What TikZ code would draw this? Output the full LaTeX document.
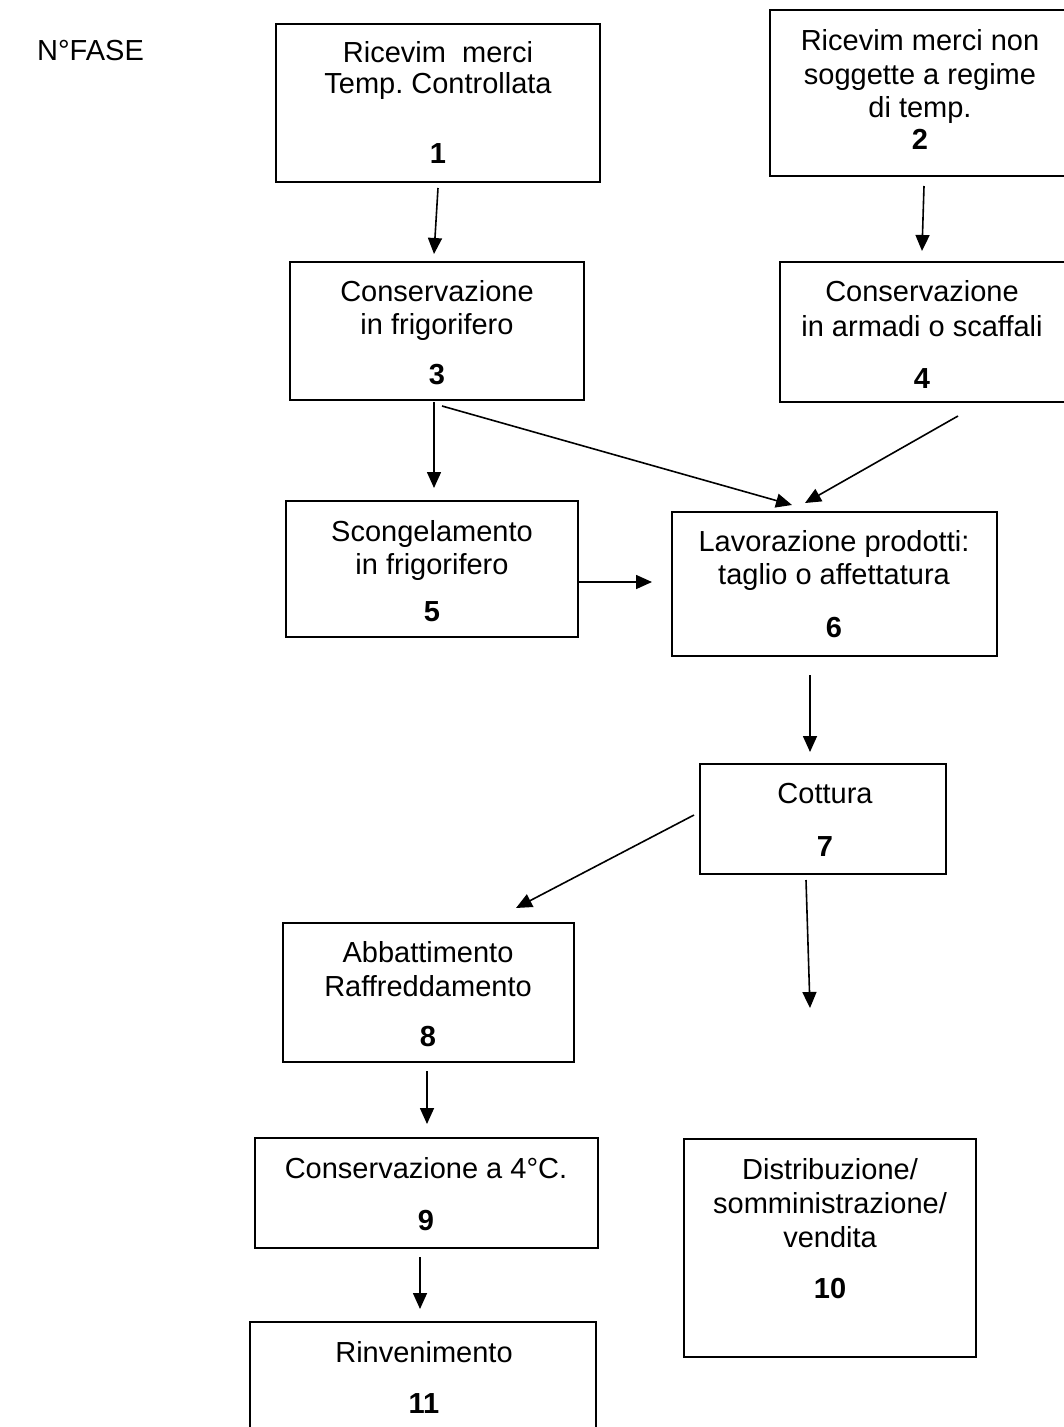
\documentclass[tikz,border=0pt]{standalone}
\usepackage{fontspec}
\setmainfont{Liberation Sans}
\usetikzlibrary{arrows.meta}
\frenchspacing
\begin{document}
\begin{tikzpicture}[x=1pt,y=-1pt,
  fbox/.style={draw=black,line width=1.9pt},
  txt/.style={anchor=base,inner sep=0pt,font=\fontsize{29}{33}\selectfont},
  num/.style={anchor=base,inner sep=0pt,font=\fontsize{29}{33}\selectfont\bfseries},
  arr/.style={line width=1.6pt,-{Triangle[length=16pt,width=14pt]}}]
\useasboundingbox (0,0) rectangle (1064,1427);
\clip (0,0) rectangle (1064,1427);
\fill[white] (0,0) rectangle (1064,1427);

\node[txt,anchor=base west] (fase) at (37,60) {N°FASE};

% boxes
\draw[fbox] (276,24) rectangle (600,182);
\node[txt] (t1a) at (438,62) {Ricevim\ \ merci};
\node[txt] (t1b) at (438,93) {Temp. Controllata};
\node[num] (n1) at (438,163) {1};

\draw[fbox] (770,10) rectangle (1075,176);
\node[txt] (t2a) at (920,50) {Ricevim merci non};
\node[txt] (t2b) at (920,84) {soggette a regime};
\node[txt] (t2c) at (920,117) {di temp.};
\node[num] (n2) at (920,149) {2};

\draw[fbox] (290,262) rectangle (584,400);
\node[txt] (t3a) at (437,301) {Conservazione};
\node[txt] (t3b) at (437,334) {in frigorifero};
\node[num] (n3) at (437,384) {3};

\draw[fbox] (780,262) rectangle (1068,402);
\node[txt] (t4a) at (922,301) {Conservazione};
\node[txt] (t4b) at (922,336) {in armadi o scaffali};
\node[num] (n4) at (922,388) {4};

\draw[fbox] (286,501) rectangle (578,637);
\node[txt] (t5a) at (432,541) {Scongelamento};
\node[txt] (t5b) at (432,574) {in frigorifero};
\node[num] (n5) at (432,621) {5};

\draw[fbox] (672,512) rectangle (997,656);
\node[txt] (t6a) at (834,551) {Lavorazione prodotti:};
\node[txt] (t6b) at (834,584) {taglio o affettatura};
\node[num] (n6) at (834,637) {6};

\draw[fbox] (700,764) rectangle (946,874);
\node[txt] (t7a) at (825,803) {Cottura};
\node[num] (n7) at (825,856) {7};

\draw[fbox] (283,923) rectangle (574,1062);
\node[txt] (t8a) at (428,962) {Abbattimento};
\node[txt] (t8b) at (428,996) {Raffreddamento};
\node[num] (n8) at (428,1046) {8};

\draw[fbox] (255,1138) rectangle (598,1248);
\node[txt] (t9a) at (426,1178) {Conservazione a 4°C.};
\node[num] (n9) at (426,1230) {9};

\draw[fbox] (684,1139) rectangle (976,1357);
\node[txt] (t10a) at (830,1179) {Distribuzione/};
\node[txt] (t10b) at (830,1213) {somministrazione/};
\node[txt] (t10c) at (830,1247) {vendita};
\node[num] (n10) at (830,1298) {10};

\draw[fbox] (250,1322) rectangle (596,1445);
\node[txt] (t11a) at (424,1362) {Rinvenimento};
\node[num] (n11) at (424,1413) {11};

% connector end points
\coordinate (a1s) at (438,188);  \coordinate (a1e) at (434,254);
\coordinate (a2s) at (924,186);  \coordinate (a2e) at (922,251);
\coordinate (a3s) at (434,402);  \coordinate (a3e) at (434,488);
\coordinate (a4s) at (442,406);  \coordinate (a4e) at (792,505);
\coordinate (a5s) at (958,416);  \coordinate (a5e) at (805,503);
\coordinate (a6s) at (578,582);  \coordinate (a6e) at (652,582);
\coordinate (a7s) at (810,675);  \coordinate (a7e) at (810,752);
\coordinate (a8s) at (694,815);  \coordinate (a8e) at (516,908);
\coordinate (a9s) at (806,880);  \coordinate (a9e) at (810,1008);
\coordinate (a10s) at (427,1071); \coordinate (a10e) at (427,1124);
\coordinate (a11s) at (420,1257); \coordinate (a11e) at (420,1309);

\foreach \i in {1,...,11} \draw[arr] (a\i s) -- (a\i e);
\end{tikzpicture}
\end{document}
